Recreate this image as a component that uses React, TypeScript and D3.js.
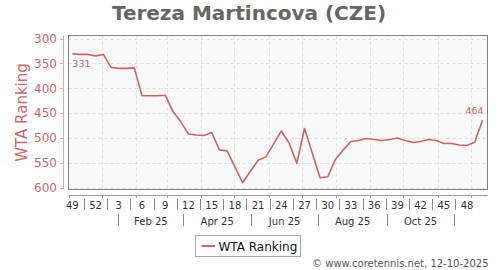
import React from "react";
import * as d3 from "d3";

const TITLE = "Tereza Martincova (CZE)";
const Y_TITLE = "WTA Ranking";
const LEGEND_LABEL = "WTA Ranking";
const CREDIT = "© www.coretennis.net, 12-10-2025";

// weekly rankings, starting ISO week 49 of 2024 (Monday 2 Dec 2024)
const START_MONDAY = new Date(2024, 11, 2);
const rankings = [
  331, 332, 332, 335, 332, 358, 360, 360, 359, 415,
  415, 415, 414, 447, 467, 492, 494, 495, 489, 524,
  526, 558, 590, 567, 545, 538, 512, 486, 510, 551,
  481, 530, 580, 578, 543, 524, 507, 505, 501, 503,
  505, 503, 500, 505, 509, 507, 503, 505, 511, 511,
  514, 515, 508, 464,
];

const yTicks = [300, 350, 400, 450, 500, 550, 600];
const weekLabels = [
  { year: 2024, week: 49 }, { year: 2024, week: 52 },
  { year: 2025, week: 3 }, { year: 2025, week: 6 }, { year: 2025, week: 9 },
  { year: 2025, week: 12 }, { year: 2025, week: 15 }, { year: 2025, week: 18 },
  { year: 2025, week: 21 }, { year: 2025, week: 24 }, { year: 2025, week: 27 },
  { year: 2025, week: 30 }, { year: 2025, week: 33 }, { year: 2025, week: 36 },
  { year: 2025, week: 39 }, { year: 2025, week: 42 }, { year: 2025, week: 45 },
  { year: 2025, week: 48 },
];
const monthLabels = ["Feb 25", "Apr 25", "Jun 25", "Aug 25", "Oct 25"];
const monthSeparators = [
  new Date(2025, 0, 16), new Date(2025, 2, 16), new Date(2025, 4, 16),
  new Date(2025, 6, 16), new Date(2025, 8, 16), new Date(2025, 10, 16),
];

const W = 500, H = 270;
const PLOT = { left: 68.5, right: 487.5, top: 35.5, bottom: 189.5 };
const RED = "#cc6666";
const FONT = "'DejaVu Sans', Verdana, sans-serif";

const DAY = 24 * 3600 * 1000;
const addDays = (d: Date, n: number) => new Date(d.getTime() + n * DAY);
// ISO week Monday
const isoMonday = (year: number, week: number) => {
  const jan4 = new Date(year, 0, 4);
  const dow = (jan4.getDay() + 6) % 7;
  return addDays(jan4, -dow + 7 * (week - 1));
};

export default function App() {
  const x = d3
    .scaleTime()
    .domain([new Date(2024, 11, 2), new Date(2025, 11, 16)])
    .range([PLOT.left, PLOT.right]);
  const y = d3.scaleLinear().domain([300, 600]).range([38.5, 187.7]);

  const data = rankings.map((v, i) => ({ date: addDays(START_MONDAY, 7 * i + 3.5), v }));
  const line = d3
    .line<{ date: Date; v: number }>()
    .x((d) => x(d.date))
    .y((d) => y(d.v));

  const monthGrid = d3.timeMonth.range(new Date(2025, 0, 1), new Date(2025, 11, 16));
  const axisY = 195.5;
  const weekPos = weekLabels.map((w) => x(addDays(isoMonday(w.year, w.week), 3.5)));
  const first = data[0];
  const last = data[data.length - 1];

  return (
    <svg width={W} height={H} style={{ display: "block", position: "absolute", left: 0, top: 0 }} fontFamily={FONT}>
      <rect width={W} height={H} fill="#ffffff" />
      <text x={249} y={20} textAnchor="middle" fontSize={20} fontWeight="bold" fill="#666666">
        {TITLE}
      </text>

      {/* plot background */}
      <rect x={PLOT.left} y={PLOT.top} width={PLOT.right - PLOT.left} height={PLOT.bottom - PLOT.top} fill="#f9f9f9" />
      {/* grid */}
      {yTicks.map((t) => (
        <line key={"gy" + t} x1={PLOT.left} x2={PLOT.right} y1={Math.round(y(t)) + 0.5} y2={Math.round(y(t)) + 0.5}
          stroke="#dddddd" strokeDasharray="3,3" />
      ))}
      {monthGrid.map((m) => (
        <line key={"gx" + m.getTime()} x1={Math.round(x(m)) + 0.5} x2={Math.round(x(m)) + 0.5} y1={PLOT.top} y2={PLOT.bottom}
          stroke="#dddddd" strokeDasharray="3,3" />
      ))}

      {/* line */}
      <path d={line(data) || ""} fill="none" stroke={RED} strokeWidth={1.6} strokeLinejoin="round" />
      <text x={x(first.date)} y={y(first.v) + 13} fontSize={9.5} fill={RED}>{first.v}</text>
      <text x={x(last.date) + 1} y={y(last.v) - 6} fontSize={9.5} fill={RED} textAnchor="end">{last.v}</text>

      {/* frame */}
      <rect x={PLOT.left} y={PLOT.top} width={PLOT.right - PLOT.left} height={PLOT.bottom - PLOT.top} fill="none" stroke="#808080" strokeWidth={1} />

      {/* y axis */}
      <line x1={63.5} x2={63.5} y1={PLOT.top} y2={PLOT.bottom} stroke="#e0aaaa" />
      {yTicks.map((t) => (
        <g key={"yt" + t}>
          <line x1={60} x2={63.5} y1={Math.round(y(t)) + 0.5} y2={Math.round(y(t)) + 0.5} stroke="#e0aaaa" />
          <text x={57} y={y(t) + 4.3} textAnchor="end" fontSize={12} fill={RED}>{t}</text>
        </g>
      ))}
      <text transform={`translate(26.5,${(PLOT.top + PLOT.bottom) / 2}) rotate(-90)`} textAnchor="middle" fontSize={15} fill={RED}>
        {Y_TITLE}
      </text>

      {/* x axis */}
      <line x1={PLOT.left} x2={PLOT.right} y1={axisY} y2={axisY} stroke="#999999" />
      {[new Date(2024, 11, 2), ...monthGrid].map((m) => (
        <line key={"xt" + m.getTime()} x1={Math.round(x(m)) + 0.5} x2={Math.round(x(m)) + 0.5} y1={axisY} y2={axisY + 2.5} stroke="#999999" />
      ))}
      {weekLabels.map((w, i) => (
        <text key={"wl" + i} x={weekPos[i]} y={208.5} textAnchor="middle" fontSize={10} fill="#333333">{w.week}</text>
      ))}
      {weekPos.slice(1).map((p, i) => {
        const mx = Math.round((p + weekPos[i]) / 2) + 0.5;
        return <line key={"ws" + i} x1={mx} x2={mx} y1={199} y2={210} stroke="#888888" />;
      })}
      {monthSeparators.map((d, i) => {
        const sx = Math.round(x(d)) + 0.5;
        return <line key={"ms" + i} x1={sx} x2={sx} y1={214} y2={226} stroke="#888888" />;
      })}
      {monthLabels.map((l, i) => (
        <text key={"ml" + i} x={(x(monthSeparators[i]) + x(monthSeparators[i + 1])) / 2} y={224.5} textAnchor="middle" fontSize={10} fill="#333333">
          {l}
        </text>
      ))}

      {/* legend */}
      <rect x={195.5} y={235.5} width={105} height={21} fill="#ffffff" stroke="#aaaaaa" />
      <line x1={201.5} x2={215} y1={246} y2={246} stroke={RED} strokeWidth={2} />
      <text x={218.5} y={250.5} fontSize={12} fill="#111111">{LEGEND_LABEL}</text>

      <text x={488.5} y={266.5} textAnchor="end" fontSize={10} fill="#555555">{CREDIT}</text>
    </svg>
  );
}
